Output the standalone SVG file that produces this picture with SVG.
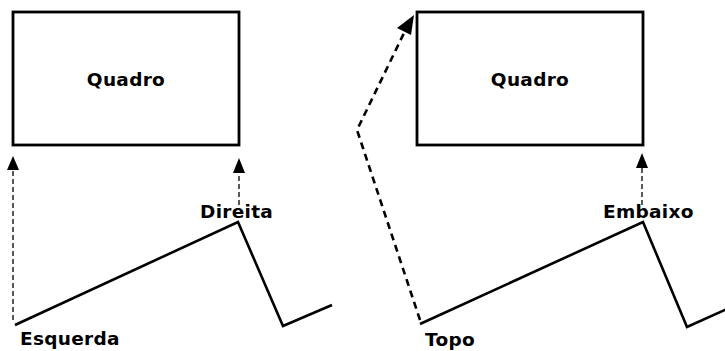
<svg xmlns="http://www.w3.org/2000/svg" width="725" height="351" viewBox="0 0 725 351">
<style>
.box{fill:#fff;stroke:#000;stroke-width:2.8}
.lbl{font-family:"DejaVu Sans",Verdana,sans-serif;font-weight:bold;font-size:18.5px;fill:#000;letter-spacing:0.3px}
.thin{fill:none;stroke:#000;stroke-width:1.3;stroke-dasharray:5 3}
.thick{fill:none;stroke:#000;stroke-width:2.6;stroke-dasharray:7 5}
.zig{fill:none;stroke:#000;stroke-width:2.6;stroke-linejoin:miter}
.head{fill:#000}
</style>
<rect width="725" height="351" fill="#fff"/>
<g id="quadro-left">
<rect class="box" x="13" y="12" width="226" height="133"/>
<text class="lbl" x="126" y="86" text-anchor="middle">Quadro</text>
</g>
<g id="quadro-right">
<rect class="box" x="417" y="12" width="226" height="133"/>
<text class="lbl" x="530" y="86" text-anchor="middle">Quadro</text>
</g>
<g id="zigzag-left">
<polyline class="zig" points="15,325 238,222 283,326 332,305"/>
</g>
<g id="zigzag-right">
<polyline class="zig" points="420,324 643,222 687,327 727,309"/>
</g>
<g id="labels">
<text class="lbl" x="20" y="345">Esquerda</text>
<text class="lbl" x="200" y="218">Direita</text>
<text class="lbl" x="425" y="346">Topo</text>
<text class="lbl" x="603" y="218">Embaixo</text>
</g>
<g id="connectors">
<line class="thin" x1="13" y1="320" x2="13" y2="170"/>
<polygon class="head" points="13,156 7,170 19,170"/>
<line class="thin" x1="239" y1="205" x2="239" y2="173"/>
<polygon class="head" points="239,158 233,173 245,173"/>
<line class="thin" x1="642" y1="205" x2="642" y2="168"/>
<polygon class="head" points="642,153 636,168 648,168"/>
<polyline class="thick" points="420,320 357,130 405,31"/>
<polygon class="head" points="414,15 397,28 411,35"/>
</g>
</svg>
